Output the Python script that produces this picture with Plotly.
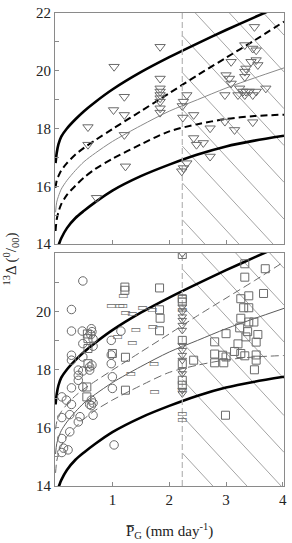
import plotly.graph_objects as go
import numpy as np

# ---------------- data ----------------
# model curves (same in both panels)
ub_x = [0, 0.02, 0.05, 0.1, 0.2, 0.35, 0.5, 0.7, 1.0, 1.5, 2.0, 2.5, 3.0, 3.5, 4.02]
ub_y = [16.8, 17.15, 17.45, 17.72, 18.0, 18.32, 18.6, 18.92, 19.35, 19.95, 20.47, 20.95, 21.41, 21.85, 22.3]
lb_x = [0.03, 0.06, 0.1, 0.2, 0.35, 0.5, 0.7, 1.0, 1.5, 2.0, 2.5, 3.0, 3.5, 4.02]
lb_y = [13.85, 14.0, 14.2, 14.55, 14.9, 15.15, 15.45, 15.85, 16.35, 16.75, 17.1, 17.38, 17.58, 17.75]
mid_x = [0, 0.02, 0.05, 0.1, 0.2, 0.35, 0.5, 0.7, 1.0, 1.5, 2.0, 2.5, 3.0, 3.5, 4.02]
mid_y = [15.1, 15.45, 15.65, 15.9, 16.2, 16.55, 16.85, 17.15, 17.55, 18.1, 18.6, 19.0, 19.4, 19.75, 20.1]
ud_x = [0, 0.02, 0.05, 0.1, 0.2, 0.35, 0.5, 0.7, 1.0, 1.5, 2.0, 2.5, 3.0, 3.5, 4.02]
ud_y = [15.95, 16.2, 16.35, 16.55, 16.8, 17.1, 17.33, 17.6, 17.98, 18.6, 19.22, 19.85, 20.45, 21.05, 21.7]
ld_x = [0, 0.02, 0.05, 0.1, 0.2, 0.35, 0.5, 0.7, 1.0, 1.5, 2.0, 2.5, 3.0, 3.5, 4.02]
ld_y = [14.45, 14.85, 15.1, 15.38, 15.7, 16.02, 16.3, 16.6, 16.95, 17.45, 17.9, 18.15, 18.33, 18.43, 18.48]

threshold_x = 2.23

# top panel: triangles
tri_x = [0.57, 0.57, 0.72, 1.03, 1.02, 1.21, 1.21, 1.21, 1.23,
         1.84, 1.84, 1.84, 1.84, 1.84, 1.84, 1.84, 1.84, 1.84,
         2.25, 2.23, 2.31, 2.24, 2.43, 2.43, 2.48, 2.60, 2.72, 2.72, 2.98, 3.15, 3.47, 2.31, 2.22, 2.25,
         3.50, 3.33, 3.47, 3.53, 3.53, 3.44, 3.56, 3.09, 3.35, 3.33, 3.00, 3.06, 3.09, 3.33, 3.24,
         3.30, 3.35, 3.41, 3.53, 3.70, 3.21, 3.33, 2.98, 3.47]
tri_y = [18.05, 17.44, 15.6, 20.14, 18.64, 19.1, 18.47, 17.78, 16.69,
         20.83, 19.73, 19.39, 19.28, 19.16, 19.05, 18.93, 18.70, 18.55,
         18.93, 18.78, 19.16, 18.38, 18.47, 17.67, 17.44, 17.5, 18.01, 17.03, 18.24, 17.95, 18.22, 16.8, 16.52, 16.63,
         21.52, 20.89, 20.77, 20.71, 20.37, 20.31, 20.2, 20.31, 20.08, 19.97, 19.85, 19.73, 19.56, 19.79, 19.39,
         19.28, 19.28, 19.28, 19.28, 19.39, 19.16, 19.16, 19.16, 19.16]

# bottom panel: circles
circ_x = [0.48, 0.28, 0.28, 0.47, 0.63, 0.64, 0.62, 0.48, 0.66, 0.66, 0.28, 0.28, 0.48, 0.60, 0.64,
          0.40, 0.48, 0.60, 0.40, 0.40, 0.28, 0.48, 0.98, 1.15, 0.98, 0.98, 1.00, 1.00,
          0.11, 0.19, 0.28, 0.63, 0.66, 0.63, 0.60, 0.11, 0.25, 0.43, 0.40, 0.66, 0.25, 0.11,
          0.14, 0.22, 0.11, 1.03]
circ_y = [21.04, 20.06, 19.32, 19.32, 19.4, 19.3, 19.2, 18.89, 19.05, 18.8, 18.49, 18.32, 18.43, 18.09, 18.15,
          17.98, 17.95, 17.98, 17.8, 17.63, 17.37, 17.4, 19.0, 19.32, 18.5, 18.2, 17.75, 17.35,
          17.06, 16.95, 16.8, 16.95, 16.85, 16.76, 16.8, 16.35, 16.45, 16.38, 16.2, 16.43, 15.86, 15.63,
          15.3, 15.24, 15.15, 15.41]

# bottom panel: squares
sq_x = [1.22, 1.22, 1.83, 1.83, 1.84, 1.83, 1.23, 1.00, 0.57, 0.57, 0.57, 0.55, 0.55, 1.23, 0.56,
        3.33, 3.69, 3.33, 3.26, 3.40, 3.66, 3.31, 3.40, 3.26, 3.40, 3.49, 3.24, 3.38, 3.00, 3.56,
        3.21, 2.80, 3.53, 3.35, 2.80, 2.94, 3.00, 3.15, 3.26, 3.33, 3.53, 3.53, 2.80, 2.96, 2.43,
        3.50, 2.99,
        2.23, 2.23, 2.23, 2.23, 2.23, 2.23, 2.23]
sq_y = [20.83, 20.72, 20.8, 20.05, 19.76, 19.33, 18.42, 18.55, 19.06, 18.72, 18.2, 17.4, 17.06, 17.29, 19.22,
        21.63, 21.46, 21.17, 20.43, 20.53, 20.61, 20.12, 20.12, 19.76, 19.63, 19.63, 19.43, 19.3, 19.23, 19.2,
        18.88, 18.95, 18.94, 19.12, 18.53, 18.49, 18.43, 18.62, 18.55, 18.47, 18.5, 18.32, 18.23, 18.23, 18.32,
        17.99, 16.43,
        21.95, 20.43, 20.32, 19.0, 17.63, 17.46, 18.2]

# bottom panel: small flat rectangles
rect_x = [0.98, 1.13, 1.18, 1.19, 1.53, 1.70, 1.23, 1.35, 1.41, 1.35, 1.71, 1.09, 1.73, 1.32, 1.74,
          2.23, 2.23, 2.23, 2.23, 2.23]
rect_y = [20.17, 20.17, 20.17, 20.53, 20.12, 20.05, 19.93, 19.9, 19.36, 18.89, 19.46, 19.12, 18.18, 17.82, 17.23,
          20.49, 20.03, 17.29, 16.45, 16.27]

# bottom panel: triangles on the threshold column
btri_x = [2.23] * 15
btri_y = [21.98, 20.15, 19.98, 19.81, 19.69, 19.52, 19.35, 18.83, 18.66, 18.49, 18.32, 17.98, 17.86, 17.29, 17.17]

# ---------------- figure ----------------
W, H = 292, 543
ML, MR, MT, MB = 55, 5, 11, 57
XR = [-0.01, 4.02]
YR = [14, 22]
top_dom = [0.5116, 1.0]
bot_dom = [0.0, 0.4926]
plot_h = H - MT - MB
plot_w = W - ML - MR

fig = go.Figure()
GRAY_FRAME = '#8a8a8a'
MK = '#6a6a6a'


def hatch(xa, ya, dom, phase):
    pxx = plot_w / (XR[1] - XR[0])
    pxy = (dom[1] - dom[0]) * plot_h / (YR[1] - YR[0])
    m = 1.07 * pxx / pxy
    spacing = 0.6
    xs, ys = [], []
    x0 = phase
    while x0 - spacing > threshold_x - 8 / m:
        x0 -= spacing
    while x0 < XR[1]:
        xa_ = max(x0, threshold_x)
        ya_ = 22 - m * (xa_ - x0)
        xb_ = min(x0 + 8 / m, XR[1])
        yb_ = 22 - m * (xb_ - x0)
        if ya_ > 14 and xb_ > xa_:
            xs += [xa_, xb_, None]
            ys += [ya_, yb_, None]
        x0 += spacing
    fig.add_trace(go.Scatter(x=xs, y=ys, mode='lines', xaxis=xa, yaxis=ya,
                             line=dict(color='#9a9a9a', width=0.9), hoverinfo='skip', showlegend=False))


hatch('x', 'y', top_dom, 2.46)
hatch('x2', 'y2', bot_dom, 2.57)

for xa, ya, top in [('x', 'y', True), ('x2', 'y2', False)]:
    fig.add_trace(go.Scatter(x=ub_x, y=ub_y, mode='lines', xaxis=xa, yaxis=ya, line_shape='spline',
                             line=dict(color='black', width=2.6, smoothing=0.8), showlegend=False))
    fig.add_trace(go.Scatter(x=lb_x, y=lb_y, mode='lines', xaxis=xa, yaxis=ya, line_shape='spline',
                             line=dict(color='black', width=2.6, smoothing=0.8), showlegend=False))
    if top:
        dstyle = dict(color='black', width=2.0, dash='7px,4px', smoothing=0.8)
        mstyle = dict(color='#8a8a8a', width=1.0, smoothing=0.8)
    else:
        dstyle = dict(color='#6a6a6a', width=1.0, dash='8px,4px', smoothing=0.8)
        mstyle = dict(color='#5a5a5a', width=1.0, smoothing=0.8)
    fig.add_trace(go.Scatter(x=ud_x, y=ud_y, mode='lines', xaxis=xa, yaxis=ya, line_shape='spline',
                             line=dstyle, showlegend=False))
    fig.add_trace(go.Scatter(x=ld_x, y=ld_y, mode='lines', xaxis=xa, yaxis=ya, line_shape='spline',
                             line=dstyle, showlegend=False))
    fig.add_trace(go.Scatter(x=mid_x, y=mid_y, mode='lines', xaxis=xa, yaxis=ya, line_shape='spline',
                             line=mstyle, showlegend=False))
    fig.add_trace(go.Scatter(x=[threshold_x, threshold_x], y=YR, mode='lines', xaxis=xa, yaxis=ya,
                             line=dict(color='#b5b5b5', width=1.2, dash='6px,3px'), showlegend=False))

fig.add_trace(go.Scatter(x=tri_x, y=tri_y, mode='markers', xaxis='x', yaxis='y',
                         marker=dict(symbol='triangle-down-open', size=9, color=MK, line=dict(width=1)),
                         showlegend=False))
fig.add_trace(go.Scatter(x=circ_x, y=circ_y, mode='markers', xaxis='x2', yaxis='y2',
                         marker=dict(symbol='circle-open', size=8.5, color=MK, line=dict(width=1)),
                         showlegend=False))
fig.add_trace(go.Scatter(x=sq_x, y=sq_y, mode='markers', xaxis='x2', yaxis='y2',
                         marker=dict(symbol='square-open', size=8, color=MK, line=dict(width=1)),
                         showlegend=False))
fig.add_trace(go.Scatter(x=btri_x, y=btri_y, mode='markers', xaxis='x2', yaxis='y2',
                         marker=dict(symbol='triangle-down-open', size=7.5, color=MK, line=dict(width=1)),
                         showlegend=False))
fig.add_trace(go.Scatter(x=rect_x, y=rect_y, mode='text', xaxis='x2', yaxis='y2', text=['▭'] * len(rect_x),
                         textposition='middle center',
                         textfont=dict(family='DejaVu Sans', size=11, color=MK), showlegend=False))

FONT = 'Liberation Serif'
tick_vals = list(range(14, 23))
top_text = [str(v) if v % 2 == 0 else '' for v in tick_vals]
bot_text = [str(v) if (v % 2 == 0 and v < 22) else '' for v in tick_vals]

common_ax = dict(showgrid=False, zeroline=False, showline=True, linecolor=GRAY_FRAME, linewidth=1,
                 mirror=True, ticks='inside', ticklen=4, tickcolor=GRAY_FRAME, tickwidth=1,
                 tickfont=dict(family=FONT, size=15, color='#222'))

fig.update_layout(
    width=W, height=H, margin=dict(l=ML, r=MR, t=MT, b=MB),
    paper_bgcolor='white', plot_bgcolor='white', showlegend=False,
    xaxis=dict(range=XR, domain=[0, 1], anchor='y', tickvals=[1, 2, 3], showticklabels=False, **common_ax),
    yaxis=dict(range=YR, domain=top_dom, anchor='x', tickvals=tick_vals, ticktext=top_text, **common_ax),
    xaxis2=dict(range=XR, domain=[0, 1], anchor='y2', tickvals=[1, 2, 3, 4], ticktext=['1', '2', '3', '4'],
                **common_ax),
    yaxis2=dict(range=YR, domain=bot_dom, anchor='x2', tickvals=tick_vals, ticktext=bot_text, **common_ax),
    annotations=[
        dict(text='P\u0305<sub>G</sub> (mm day<sup>-1</sup>)', xref='paper', yref='paper',
             x=(171 - ML) / plot_w, y=(H - MB - 531) / plot_h, xanchor='center', yanchor='middle',
             showarrow=False, font=dict(family=FONT, size=15, color='#222')),
        dict(text='<sup>13</sup>Δ (<sup>0</sup>/<sub>00</sub>)', xref='paper', yref='paper',
             x=(10 - ML) / plot_w, y=(H - MB - 258) / plot_h, xanchor='center', yanchor='middle',
             textangle=-90, showarrow=False, font=dict(family=FONT, size=15, color='#222')),
    ],
)

fig.write_html('out.html')
